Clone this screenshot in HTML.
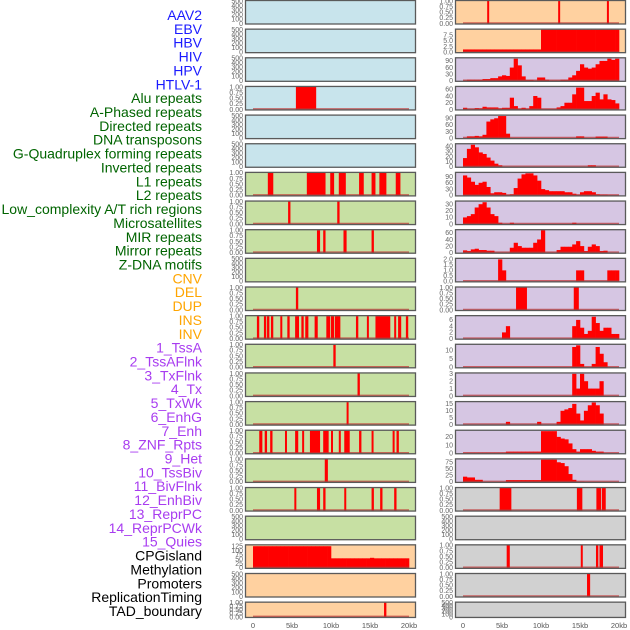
<!DOCTYPE html>
<html><head><meta charset="utf-8"><style>
html,body{margin:0;padding:0;background:#fff;width:630px;height:630px;overflow:hidden}
svg{display:block;font-family:"Liberation Sans",sans-serif}
</style></head><body>
<svg id="chart" width="630" height="630" viewBox="0 0 630 630"></svg>
<script>
// ---------- data ----------
const trackLabels = ["AAV2","EBV","HBV","HIV","HPV","HTLV-1","Alu repeats","A-Phased repeats","Directed repeats","DNA transposons","G-Quadruplex forming repeats","Inverted repeats","L1 repeats","L2 repeats","Low_complexity A/T rich regions","Microsatellites","MIR repeats","Mirror repeats","Z-DNA motifs","CNV","DEL","DUP","INS","INV","1_TssA","2_TssAFlnk","3_TxFlnk","4_Tx","5_TxWk","6_EnhG","7_Enh","8_ZNF_Rpts","9_Het","10_TssBiv","11_BivFlnk","12_EnhBiv","13_ReprPC","14_ReprPCWk","15_Quies","CPGisland","Methylation","Promoters","ReplicationTiming","TAD_boundary"];
const xTickValues = [0,5,10,15,20];
const xTickLabels = ["0","5kb","10kb","15kb","20kb"];
const ticksEmpty = [0,100,200,300,400,500];
const ticksEmptyLabels = ["0","100","200","300","400","500"];
const ticksUnit = [0,0.25,0.5,0.75,1];
const ticksUnitLabels = ["0.00","0.25","0.50","0.75","1.00"];

// left column intervals (kb)
const L3_int = [[5.5,8.1]];
const L6_int = [[1.9,2.6],[6.9,9.3],[9.9,10.4],[11.0,11.9],[13.6,14.2],[15.2,15.7],[16.2,17.1],[18.3,18.9]];
const L7_int = [[4.5,4.8],[10.8,11.1]];
const L8_int = [[8.2,8.6],[9.0,9.3],[11.6,12.0],[15.2,15.5]];
const L10_int = [[5.5,5.8]];
const L11_int = [[0.5,0.8],[1.4,1.7],[1.8,2.1],[2.3,2.6],[3.5,3.7],[4.4,4.7],[5.4,5.9],[6.2,6.5],[6.7,7.1],[7.9,8.3],[9.4,9.9],[10.0,10.4],[10.5,11.2],[13.2,13.5],[14.6,14.8],[15.7,17.6],[18.1,18.3],[18.6,19.0],[19.6,19.9]];
const L12_int = [[10.3,10.6]];
const L13_int = [[13.4,13.7]];
const L14_int = [[12.0,12.2]];
const L15_int = [[0.8,1.2],[1.5,1.8],[2.2,2.5],[4.1,4.3],[5.4,5.8],[6.3,6.5],[7.3,8.6],[9.0,9.7],[10.0,10.2],[11.0,11.2],[11.7,12.4],[13.6,13.9],[15.2,15.4],[17.9,18.1],[18.4,18.7]];
const L16_int = [[9.2,9.6]];
const L17_int = [[5.3,5.5],[8.2,8.6],[9.0,9.3],[11.7,11.9],[15.2,15.5],[16.3,16.6],[18.1,18.4]];
const L19_vals = [125,125,125,125,125,125,125,125,125,125,125,125,125,125,125,125,125,125,125,125,55,55,55,55,55,55,55,55,55,55,58,55,55,55,55,55,55,55,55,55];
const L19_ticks = [0,25,50,75,100,125];
const L21_int = [[16.8,17.1]];

// right column
const R0_int = [[3.1,3.3],[12.2,12.4],[18.45,18.65]];
const R1_vals = [1.2,1.2,1.2,1.2,1.2,1.2,1.2,1.2,1.2,1.2,1.2,1.2,1.2,1.2,1.2,1.2,1.2,1.2,1.2,1.2,10,10,10,10,10,10,10,10,10,10,10,10,10,10,10,10,10,10,10,10];
const R1_ticks = [0,2.5,5,7.5]; const R1_tl = ["0.0","2.5","5.0","7.5"];
const R2_vals = [2,5,5,5,5,8,8,12,12,20,25,22,60,100,70,20,4,4,2,15,15,5,2,2,2,5,5,15,25,45,75,60,55,60,75,90,90,100,95,100];
const R2_ticks = [0,30,60,90];
const R3_vals = [5,1,1,4,3,8,6,6,6,3,5,5,35,10,2,5,2,10,40,35,1,1,1,1,6,10,20,20,45,65,65,25,25,40,50,30,45,30,28,18];
const R3_ticks = [0,20,40,60];
const R4_vals = [0,8,8,10,8,15,75,85,90,100,100,20,0,0,0,0,0,0,0,0,0,0,0,0,0,0,0,0,0,8,8,0,0,0,7,7,7,0,0,0];
const R4_ticks = [0,30,60,90];
const R5_vals = [17,35,43,38,28,25,18,12,6,3,0,0,0,0,0,0,0,0,0,0,0,0,0,0,0,0,0,0,0,0,0,0,3,3,0,0,0,0,0,0];
const R5_ticks = [0,10,20,30,40];
const R6_vals = [95,85,65,50,60,65,40,10,15,15,12,2,5,35,80,100,105,105,95,70,30,25,20,20,20,20,15,15,8,3,15,20,20,15,5,3,3,1,1,1];
const R6_ticks = [0,30,60,90];
const R7_vals = [10,12,15,25,30,33,25,15,12,2,0,0,2,0,0,0,0,0,0,0,0,0,0,0,0,0,0,0,2,0,0,0,0,0,0,0,0,0,0,0];
const R7_ticks = [0,10,20,30];
const R8_vals = [7,5,10,12,8,8,6,6,1,1,1,1,15,30,20,15,15,15,30,40,68,1,1,1,8,18,18,18,25,35,20,5,18,25,20,5,6,0,0,0];
const R8_ticks = [0,20,40,60];
const R9_vals = [0,0,0,0,0,0,0,0,0,2,1,0,0,0,0,0,0,0,0,0,0,0,0,0,0,0,0,0,0,1,1,0,0,0,0,0,0,1,1,1];
const R9_ticks = [0,0.5,1,1.5,2]; const R9_tl = ["0.0","0.5","1.0","1.5","2.0"];
const R10_int = [[6.8,8.2],[14.2,14.85]];
const R11_vals = [0,0,0,0,0,0,0,0,0,0,2,4,0,0,0,0,0,0,0,0,0,0,0,0,0,0,0,0,4,6,3.5,1.5,2.5,7,5,2.5,3.5,3.5,1.5,1.5];
const R11_ticks = [0,2,4,6];
const R12_vals = [0,0,0,0,0,0,0,0,0,0,0,0,0,0,0,0,0,0,0,0,0,0,0,0,0,0,0,0,12,13,2,0,0,2,12,8,3,0,0,0];
const R12_ticks = [0,5,10];
const R13_vals = [0,0,0,0,0,0,0,0,0,0,0,0,0,0,0,0,0,0,0,0,0,0,0,0,0,0,0,0,3,1,3,2,1,1,1,2,0,0,0,0];
const R13_ticks = [0,1,2,3];
const R14_vals = [0,0,0,0,0,0,0,0,0,0,0,2,0,0,0,0,0,0,0,2,0,0,0,0,2,10,11,12,15,8,3,10,14,16,14,8,0,0,0,0];
const R14_ticks = [0,5,10,15];
const R15_vals = [0.5,0.5,0.5,0.5,0.5,0.5,0.5,0.5,0.5,0.5,0.5,2,2,2,2,2,2,2,2,2,27,27,27,27,20,18,17,12,5,2,5,5,5,3,2,2,0,0,0,0];
const R15_ticks = [0,10,20];
const R16_vals = [20,17,17,8,8,0,0,0,0,0,0,7,7,7,7,7,7,7,7,7,85,85,85,85,75,72,60,30,8,1,1,0,0,0,0,0,0,0,0,0];
const R16_ticks = [0,25,50,75];
const R17_int = [[4.7,6.2],[14.6,15.3],[17.1,17.7],[17.8,18.3]];
const R19_int = [[5.6,6.0],[15.1,15.3],[17.05,17.35],[17.5,17.95]];
const R20_int = [[15.9,16.3]];

// ---------- layout/style ----------
const NS = "http://www.w3.org/2000/svg";
const svg = document.getElementById("chart");
const BG = {blue:"#c8e4ec",green:"#c7e0a3",peach:"#ffd1a0",lav:"#d6c6e3",grey:"#d1d1d1"};
const COLS = [{px:245,pw:171,x0:253,x1:409,tx:243},{px:455,pw:171,x0:463,x1:619,tx:453}];
function rowTop(i){return i*28.65;}
function el(tag,attrs,parent){const e=document.createElementNS(NS,tag);for(const k in attrs)e.setAttribute(k,attrs[k]);(parent||svg).appendChild(e);return e;}

function U(ints){return {kind:"int",ints:ints,ticks:ticksUnit,tl:ticksUnitLabels,max:1};}
function H(vals,ticks,tl,max){return {kind:"hist",vals:vals,ticks:ticks,tl:tl||ticks.map(String),max:max};}
const E = {kind:"empty",ticks:ticksEmpty,tl:ticksEmptyLabels,max:500};

const leftPanels = [E,E,E,U(L3_int),E,E,U(L6_int),U(L7_int),U(L8_int),E,U(L10_int),U(L11_int),U(L12_int),U(L13_int),U(L14_int),U(L15_int),U(L16_int),U(L17_int),E,H(L19_vals,L19_ticks,null,130),E,U(L21_int)];
const rightPanels = [U(R0_int),H(R1_vals,R1_ticks,R1_tl,10),H(R2_vals,R2_ticks,null,102),H(R3_vals,R3_ticks,null,67),H(R4_vals,R4_ticks,null,102),H(R5_vals,R5_ticks,null,44),H(R6_vals,R6_ticks,null,107),H(R7_vals,R7_ticks,null,34),H(R8_vals,R8_ticks,null,68),H(R9_vals,R9_ticks,R9_tl,2.05),U(R10_int),H(R11_vals,R11_ticks,null,7.2),H(R12_vals,R12_ticks,null,13.3),H(R13_vals,R13_ticks,null,3.05),H(R14_vals,R14_ticks,null,16.3),H(R15_vals,R15_ticks,null,27.5),H(R16_vals,R16_ticks,null,86),U(R17_int),E,U(R19_int),U(R20_int),E];
const leftBg = i => i<6?BG.blue:(i<19?BG.green:BG.peach);
const rightBg = i => i<2?BG.peach:(i<17?BG.lav:BG.grey);

// labels
const labelColor = i => i<6?"#1a1aff":(i<19?"#006400":(i<24?"#ffa500":(i<39?"#a83cf0":"#000")));
trackLabels.forEach((t,i)=>{
  const tx=el("text",{x:202,y:15+i*13.86+5,"text-anchor":"end","font-size":"14",fill:labelColor(i)});
  tx.textContent=t;
  
  
});

function drawPanel(col,ri,p,bg){
  const C=COLS[col];
  const top=rowTop(ri);
  const h = ri===21?16.3:24.5;
  const g=el("g",{});
  
  
  el("rect",{x:C.px,y:top,width:C.pw,height:h,fill:bg},g);
  const yb=top+h-1, yt=top+1;
  const ys=v=>yb-(v/p.max)*(yb-yt);
  const xs=k=>C.x0+(k/20)*(C.x1-C.x0);
  // ticks
  p.ticks.forEach((v,j)=>{
    const t=el("text",{x:C.tx,y:ys(v)+2.3,"text-anchor":"end","font-size":"7",fill:"#666"},g);
    t.textContent=p.tl[j];
    
    
  });
  if(p.kind==="int"){
    p.ints.forEach(iv=>{
      const x0=xs(iv[0]),w=Math.max(2,xs(iv[1])-x0);
      const r=el("rect",{x:x0,y:yt,width:w,height:yb-yt,fill:"#ff0000"},g);
      
      
    });
  } else if(p.kind==="hist"){
    p.vals.forEach((v,j)=>{
      if(v<=0)return;
      const x0=xs(j*0.5),x1=xs((j+1)*0.5);
      const r=el("rect",{x:x0,y:ys(v),width:x1-x0+0.3,height:yb-ys(v),fill:"#ff0000"},g);
      
      
    });
  }
  if(p.kind!=="empty"){
    el("line",{x1:xs(0),x2:xs(20),y1:yb-0.5,y2:yb-0.5,stroke:"#c03030","stroke-width":1.6,"stroke-opacity":0.7},g);
  }
  el("rect",{x:C.px+0.5,y:top+0.5,width:C.pw-1,height:h-1,fill:"none",stroke:"#5a5a5a","stroke-width":1.3},g);
}
leftPanels.forEach((p,i)=>drawPanel(0,i,p,leftBg(i)));
rightPanels.forEach((p,i)=>drawPanel(1,i,p,rightBg(i)));

// x axes
COLS.forEach((C,ci)=>{
  xTickValues.forEach((v,j)=>{
    const t=el("text",{x:C.x0+(v/20)*(C.x1-C.x0),y:628,"text-anchor":"middle","font-size":"7.5",fill:"#555"});
    t.textContent=xTickLabels[j];
    
    
  });
});
</script>
</body></html>
